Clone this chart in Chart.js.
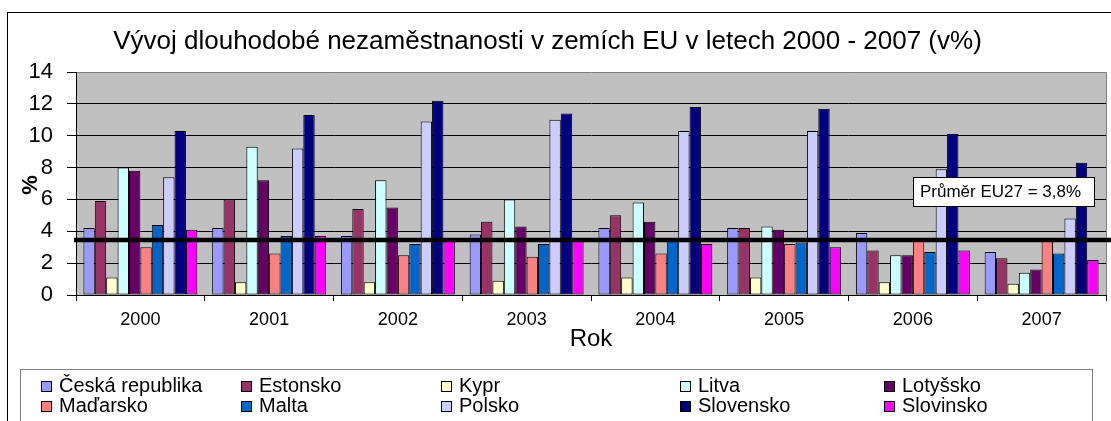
<!DOCTYPE html>
<html>
<head>
<meta charset="utf-8">
<script src="https://cdn.jsdelivr.net/npm/chart.js@4/dist/chart.umd.min.js"></script>
<style>
  html, body { margin: 0; padding: 0; background: #ffffff; }
  #wrap { width: 1111px; height: 421px; position: relative; }
</style>
</head>
<body>
<div id="wrap"><canvas id="c" width="1111" height="421"></canvas></div>
<script>
// ---- data ----
const years = ['2000', '2001', '2002', '2003', '2004', '2005', '2006', '2007'];
const ceskaRepublika = [4.2, 4.2, 3.7, 3.8, 4.2, 4.2, 3.9, 2.7];
const estonsko      = [5.9, 6.0, 5.4, 4.6, 5.0, 4.2, 2.8, 2.3];
const kypr          = [1.1, 0.8, 0.8, 0.9, 1.1, 1.1, 0.8, 0.7];
const litva         = [8.0, 9.3, 7.2, 6.0, 5.8, 4.3, 2.5, 1.4];
const lotyssko      = [7.8, 7.2, 5.5, 4.3, 4.6, 4.1, 2.5, 1.6];
const madarsko      = [3.0, 2.6, 2.5, 2.4, 2.6, 3.2, 3.4, 3.4];
const malta         = [4.4, 3.7, 3.2, 3.2, 3.4, 3.3, 2.7, 2.6];
const polsko        = [7.4, 9.2, 10.9, 11.0, 10.3, 10.3, 7.9, 4.8];
const slovensko     = [10.3, 11.3, 12.2, 11.4, 11.8, 11.7, 10.1, 8.3];
const slovinsko     = [4.1, 3.7, 3.4, 3.4, 3.2, 3.0, 2.8, 2.2];
const seriesNames = ['Česká republika', 'Estonsko', 'Kypr', 'Litva', 'Lotyšsko',
                     'Maďarsko', 'Malta', 'Polsko', 'Slovensko', 'Slovinsko'];
const yTicks = [0, 2, 4, 6, 8, 10, 12, 14];
const avgLineValue = 3.45;
const avgLabel = 'Průměr EU27 = 3,8%';
const chartTitle = 'Vývoj dlouhodobé nezaměstnanosti v zemích EU v letech 2000 - 2007 (v%)';
const xTitle = 'Rok';
const yTitle = '%';

// ---- styles ----
const colors = ['#9999FF', '#993366', '#FFFFCC', '#CCFFFF', '#660066',
                '#FF8080', '#0066CC', '#CCCCFF', '#000080', '#FF00FF'];
const FONT = '"Liberation Sans", Arial, sans-serif';
const seriesValues = [ceskaRepublika, estonsko, kypr, litva, lotyssko,
                      madarsko, malta, polsko, slovensko, slovinsko];

const datasets = seriesNames.map((name, i) => ({
  label: name,
  data: seriesValues[i],
  backgroundColor: colors[i],
  borderColor: '#000000',
  borderWidth: 1,
  borderSkipped: false,
  categoryPercentage: 0.885,
  barPercentage: 1.0
}));

const decorPlugin = {
  id: 'decor',
  beforeDraw(chart) {
    const ctx = chart.ctx, a = chart.chartArea;
    ctx.save();
    ctx.fillStyle = '#ffffff';
    ctx.fillRect(0, 0, chart.width, chart.height);
    ctx.fillStyle = '#C0C0C0';
    ctx.fillRect(a.left, a.top, a.right - a.left, a.bottom - a.top);
    ctx.restore();
  },
  afterDatasetsDraw(chart) {
    const ctx = chart.ctx, a = chart.chartArea;
    const y = chart.scales.y.getPixelForValue(avgLineValue);
    ctx.save();
    ctx.strokeStyle = '#808080';
    ctx.lineWidth = 1;
    ctx.beginPath();
    ctx.moveTo(a.right + 0.5, a.top);
    ctx.lineTo(a.right + 0.5, a.bottom);
    ctx.stroke();
    ctx.strokeStyle = '#000000';
    ctx.lineWidth = 4.5;
    ctx.beginPath();
    ctx.moveTo(a.left - 2, y);
    ctx.lineTo(chart.width, y);
    ctx.stroke();
    const bx = 913, by = 177, bw = 181, bh = 29;
    ctx.fillStyle = '#ffffff';
    ctx.fillRect(bx, by, bw, bh);
    ctx.strokeStyle = '#000000';
    ctx.lineWidth = 1;
    ctx.strokeRect(bx + 0.5, by + 0.5, bw, bh);
    ctx.fillStyle = '#000000';
    ctx.font = '17px ' + FONT;
    ctx.textAlign = 'left';
    ctx.textBaseline = 'alphabetic';
    ctx.fillText(avgLabel, 920, 197);
    ctx.restore();
  },
  afterDraw(chart) {
    const ctx = chart.ctx, a = chart.chartArea;
    ctx.save();
    ctx.strokeStyle = '#000000';
    ctx.lineWidth = 1;
    ctx.strokeRect(7.5, 12.5, chart.width + 10, chart.height + 10);
    ctx.fillStyle = '#000000';
    ctx.font = '26px ' + FONT;
    ctx.textAlign = 'center';
    ctx.textBaseline = 'alphabetic';
    ctx.fillText(chartTitle, 547.5, 49);
    ctx.font = '24px ' + FONT;
    ctx.fillText(xTitle, (a.left + a.right) / 2, 346);
    ctx.save();
    ctx.translate(37, 185);
    ctx.rotate(-Math.PI / 2);
    ctx.font = 'bold 22px ' + FONT;
    ctx.textAlign = 'center';
    ctx.textBaseline = 'alphabetic';
    ctx.fillText(yTitle, 0, 0);
    ctx.restore();
    ctx.strokeStyle = '#808080';
    ctx.lineWidth = 1;
    ctx.strokeRect(20.5, 369.5, 1072, 70);
    const colX = [41, 241, 441, 680, 884];
    const rowSq = [381, 401];
    const rowBase = [392, 412];
    ctx.font = '20px ' + FONT;
    ctx.textAlign = 'left';
    chart.data.datasets.forEach((ds, i) => {
      const col = i % 5, row = Math.floor(i / 5);
      const x = colX[col], sy = rowSq[row];
      ctx.fillStyle = ds.backgroundColor;
      ctx.fillRect(x, sy, 11, 11);
      ctx.strokeStyle = '#000000';
      ctx.strokeRect(x + 0.5, sy + 0.5, 10, 10);
      ctx.fillStyle = '#000000';
      ctx.fillText(ds.label, x + 18, rowBase[row]);
    });
    ctx.restore();
  }
};

new Chart(document.getElementById('c'), {
  type: 'bar',
  data: { labels: years, datasets },
  options: {
    responsive: false,
    animation: false,
    devicePixelRatio: 1,
    layout: { padding: { top: 72, left: 0, right: 5, bottom: 0 } },
    plugins: { legend: { display: false }, title: { display: false }, tooltip: { enabled: false } },
    scales: {
      x: {
        afterFit(s) { s.height = 126; },
        grid: { display: true, drawOnChartArea: false, drawTicks: true, tickLength: 6,
                tickColor: '#000000', offset: true },
        border: { display: true, color: '#000000', width: 1 },
        ticks: { color: '#000000', font: { family: FONT, size: 18 }, padding: 8, maxRotation: 0 }
      },
      y: {
        min: 0, max: 14,
        afterFit(s) { s.width = 76; },
        afterBuildTicks(s) { s.ticks = yTicks.map(v => ({ value: v })); },
        grid: {
          color: (c) => (c.tick && c.tick.value === 14) ? '#808080' : '#000000',
          lineWidth: 1, drawTicks: true, tickLength: 9, tickColor: '#000000'
        },
        border: { display: true, color: '#000000', width: 1 },
        ticks: { color: '#000000', font: { family: FONT, size: 22 }, padding: 14 }
      }
    }
  },
  plugins: [decorPlugin]
});
</script>
</body>
</html>
